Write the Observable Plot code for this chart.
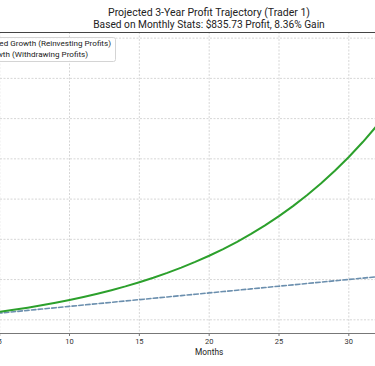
<!DOCTYPE html>
<html><head><meta charset="utf-8">
<script src="https://cdn.jsdelivr.net/npm/d3@7"></script>
<script src="https://cdn.jsdelivr.net/npm/@observablehq/plot@0.6"></script>
<style>
html,body{margin:0;padding:0;background:#fff;overflow:hidden;}
#wrap{position:relative;width:375px;height:366px;overflow:hidden;font-family:Roboto,"Noto Sans",sans-serif;}
#title{position:absolute;left:43px;width:332px;top:7px;text-align:center;font-size:10.5px;line-height:11.7px;color:#222;white-space:nowrap;}
#title span{display:inline-block;}
#chart{position:absolute;left:0;top:31px;}
#legend{position:absolute;right:259px;top:36.5px;background:rgba(255,255,255,0.85);border:1px solid #d4d4d4;border-radius:2.5px;padding:0.5px 4px 0.5px 5px;white-space:nowrap;font-size:7.8px;line-height:11.3px;color:#222;}
.row{display:flex;align-items:center;}
.sw{width:16px;height:0;margin-right:5px;}
</style></head>
<body><div id="wrap"><div id="title"></div><div id="chart"></div><div id="legend"></div></div>
<script>
const titleText = "Projected 3-Year Profit Trajectory (Trader 1)";
const subtitleText = "Based on Monthly Stats: $835.73 Profit, 8.36% Gain";
const seriesNames = ["Compounded Growth (Reinvesting Profits)", "Linear Growth (Withdrawing Profits)"];
const xLabel = "Months";
const months = [0,1,2,3,4,5,6,7,8,9,10,11,12,13,14,15,16,17,18,19,20,21,22,23,24,25,26,27,28,29,30,31,32,33,34,35,36];
const compoundProfit = [0,840,1740,2720,3790,4940,6190,7540,9000,10590,12310,14180,16200,18390,20760,23340,26120,29140,32420,35960,39800,43970,48480,53370,58660,64400,70620,77360,84670,92580,101160,110450,120520,131430,143250,156060,169950];
const linearProfit = [0,836,1671,2507,3343,4179,5014,5850,6686,7522,8357,9193,10029,10865,11700,12536,13372,14207,15043,15879,16715,17550,18386,19222,20058,20893,21729,22565,23400,24236,25072,25908,26743,27579,28415,29251,30086];
const xTicks = [5,10,15,20,25,30];
const yGrid = [0,25000,50000,75000,100000,125000,150000,175000];

const colors = ["#2ca02c", "#6b8fae"];
const xDomain = [5.057, 31.91];
const yDomain = [-8500, 178500];

const titleEl = document.getElementById("title");
titleEl.innerHTML = `<div><span id="t1">${titleText}</span></div><div><span id="t2">${subtitleText}</span></div>`;
const legendEl = document.getElementById("legend");
legendEl.innerHTML =
  `<div class="row"><span class="sw" style="border-top:2px solid ${colors[0]}"></span><span id="l1">${seriesNames[0]}</span></div>` +
  `<div class="row"><span class="sw" style="border-top:1.6px dashed ${colors[1]}"></span><span id="l2">${seriesNames[1]}</span></div>`;

function fitFont(el, target) {
  const w = el.getBoundingClientRect().width;
  const fs = parseFloat(getComputedStyle(el).fontSize);
  el.style.fontSize = (fs * target / w) + "px";
}
fitFont(document.getElementById("t1"), 202);
fitFont(document.getElementById("t2"), 232);
// legend: visible part of first label spans ~112px in the reference
(function () {
  const span = document.getElementById("l1");
  const node = span.firstChild;
  const idx = seriesNames[0].indexOf("ed Growth");
  const r = document.createRange();
  r.setStart(node, idx); r.setEnd(node, seriesNames[0].length);
  const w = r.getBoundingClientRect().width;
  const fs = parseFloat(getComputedStyle(legendEl).fontSize);
  legendEl.style.fontSize = (fs * 111.7 / w) + "px";
})();

const data = months.map((m, i) => ({month: m, compound: compoundProfit[i], linear: linearProfit[i]}));
const font = 'Roboto,"Noto Sans",sans-serif';

const plot = Plot.plot({
  width: 375, height: 335,
  marginLeft: 0, marginRight: 0, marginTop: 1, marginBottom: 33,
  style: {fontFamily: font, fontSize: "7.5px", color: "#333", background: "transparent", overflow: "visible"},
  x: {domain: xDomain},
  y: {domain: yDomain, axis: null},
  marks: [
    Plot.gridX(xTicks, {stroke: "#d6d6d6", strokeOpacity: 1, strokeDasharray: "2,1.5"}),
    Plot.gridY(yGrid, {stroke: "#d6d6d6", strokeOpacity: 1, strokeDasharray: "2,1.5"}),
    Plot.ruleY([yDomain[1]], {stroke: "#444", strokeWidth: 1.1}),
    Plot.ruleY([yDomain[0]], {stroke: "#777", strokeWidth: 1}),
    Plot.axisX(xTicks, {tickSize: 3, tickPadding: 2, label: null, stroke: "#777", fill: "#333"}),
    Plot.line(data, {x: "month", y: "linear", stroke: colors[1], strokeWidth: 1.6, strokeDasharray: "4.5,2.3", clip: true}),
    Plot.line(data, {x: "month", y: "compound", stroke: colors[0], strokeWidth: 2, clip: true}),
    Plot.text([xLabel], {x: 20, frameAnchor: "bottom", dy: 21, fontSize: 8.3, fill: "#222"})
  ]
});
document.getElementById("chart").appendChild(plot);
</script>
</body></html>
